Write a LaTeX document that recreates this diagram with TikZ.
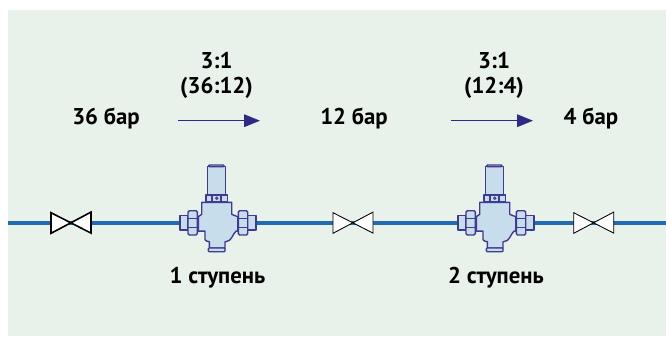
\documentclass[tikz,border=0pt]{standalone}
\usepackage{fontspec}
\setmainfont{PT Sans}
\usetikzlibrary{arrows.meta}
\definecolor{panelbg}{HTML}{E8F1EA}
\definecolor{pipeblue}{HTML}{1F6CB2}
\definecolor{navy}{HTML}{2E2A86}
\definecolor{valvefill}{HTML}{C8DDEB}
\definecolor{valveline}{HTML}{3F3A92}
\tikzset{
  x=0.75pt,y=-0.75pt,
  lbl/.style={font=\fontsize{17.1pt}{19pt}\selectfont\bfseries,text=black,inner sep=0pt,align=center},
  pipe/.style={draw=pipeblue,line width=2.7pt},
  flow/.style={draw=navy,line width=0.9pt,-{Triangle[length=12pt,width=9.5pt]}},
  vb/.style={draw=valveline,fill=valvefill,line width=1.05pt,line join=round},
  vl/.style={draw=valveline,line width=1.05pt},
  shutoff/.pic={
    \draw[fill=white,draw=black,line width=\pgfkeysvalueof{/tikz/shutw},line join=miter]
      (-20,-10) -- (20,10.4) -- (20,-10.6) -- (-20,10.6) -- cycle;
  },
  shutw/.initial=0.65pt,
  reducer/.pic={
    % tails
    \draw[vb] (-36.7,-7.4) rectangle (-28.7,7.4);
    \draw[vb] (28.7,-7.4) rectangle (39.3,7.4);
    % body
    \draw[vb] (-15,-20.4) -- (15,-20.4) -- (15,-8.4) -- (21,-6) -- (21,8.4) -- (19.3,8.4)
      .. controls (16,11) and (15,19) .. (9,19) -- (8.3,19) -- (8.3,25.4) -- (-7.4,25.4) -- (-7.4,19) -- (-10,18.4)
      -- (-11.7,17) -- (-11.7,8.4) -- (-18.4,8.4) -- (-18.4,-6) -- (-15,-8.4) -- cycle;
    % nuts
    \draw[vb,rounded corners=1pt] (-28.7,-12) rectangle (-19.4,12.3);
    \draw[vl] (-28.7,-4.4) -- (-19.4,-4.4) (-28.7,4.6) -- (-19.4,4.6);
    \draw[vb,rounded corners=1pt] (21.6,-12) rectangle (31,12.3);
    \draw[vl] (21.6,-4.4) -- (31,-4.4) (21.6,4.6) -- (31,4.6);
    % bottom flange
    \draw[vb,rounded corners=0.7pt] (-8.4,25.3) rectangle (8.3,29);
    % collar
    \draw[vb] (-10.7,-27.7) rectangle (10.6,-21);
    \draw[vl,line width=1.5pt] (-4.7,-27.7) -- (-4.7,-21) (4.7,-27.7) -- (4.7,-21);
    \draw[vl,line width=0.7pt] (0,-24.4) circle (1.2);
    % cylinder and cap
    \draw[vb] (-9.4,-56) -- (9,-56) -- (9,-27.7) -- (-9.4,-27.7) -- cycle;
    \draw[vb,rounded corners=0.7pt] (-8,-57.7) rectangle (7.3,-56);
  }
}
\begin{document}
\begin{tikzpicture}
\useasboundingbox (0,0) rectangle (666,336);
\fill[white] (0,0) rectangle (666,336);
\fill[panelbg] (8,10) rectangle (666,336);

% pipe anchors
\coordinate (pipeA) at (8,222.7);
\coordinate (pipeB) at (666,222.7);
\draw[pipe] (pipeA) -- (pipeB);

% shut-off valves
\pic[shutw=1.2pt] at (71,222.7) {shutoff};
\pic at (353,222.7) {shutoff};
\pic at (593.7,222.7) {shutoff};

% pressure reducers
\pic at (216.7,222.7) {reducer};
\pic at (494.7,222.7) {reducer};

% flow arrows
\coordinate (a1s) at (178,120.7);
\coordinate (a1e) at (260,120.7);
\coordinate (a2s) at (451,120.7);
\coordinate (a2e) at (533,120.7);
\draw[flow] (a1s) -- (a1e);
\draw[flow] (a2s) -- (a2e);

% labels
\node[lbl] (r1) at (216.5,60.5) {3:1};
\node[lbl] (q1) at (216.5,88) {(36:12)};
\node[lbl] (r2) at (494,60.5) {3:1};
\node[lbl] (q2) at (494,88) {(12:4)};
\node[lbl] (p1) at (106,118.5) {36 бар};
\node[lbl] (p2) at (354,118.5) {12 бар};
\node[lbl] (p3) at (591,118.5) {4 бар};
\node[lbl] (s1) at (217.5,277.5) {1 ступень};
\node[lbl] (s2) at (496,277.5) {2 ступень};
\end{tikzpicture}
\end{document}
